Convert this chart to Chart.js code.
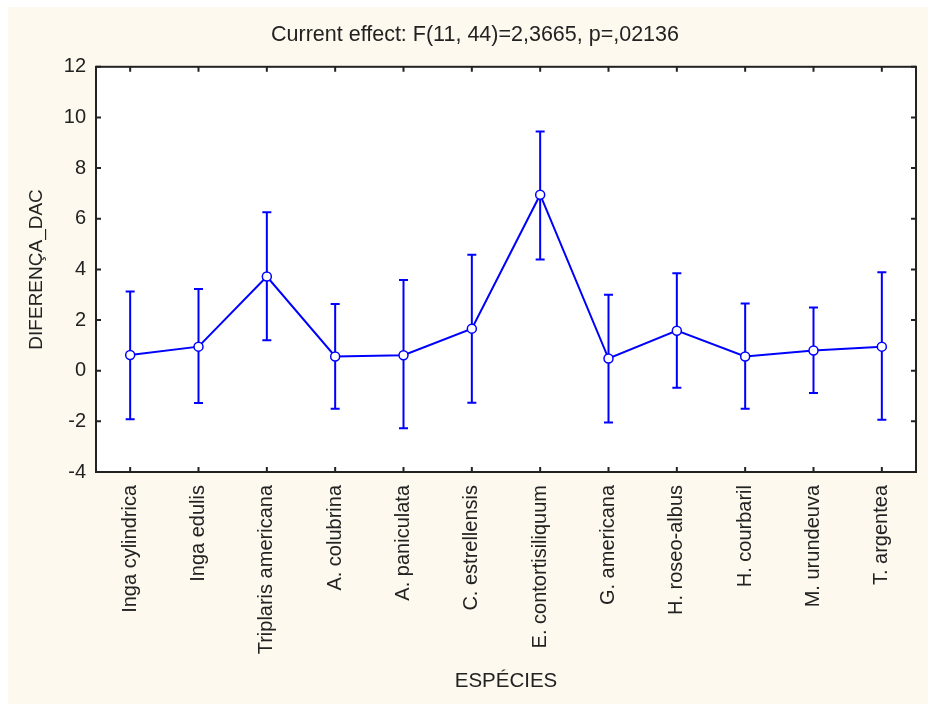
<!DOCTYPE html>
<html>
<head>
<meta charset="utf-8">
<script src="https://cdn.jsdelivr.net/npm/chart.js@4.4.0/dist/chart.umd.min.js"></script>
<style>
  html, body { margin: 0; padding: 0; background: #ffffff; }
  #wrap { position: absolute; left: 8px; top: 7px; width: 920px; height: 697px; background: #fdf9ee; }
</style>
</head>
<body>
<div id="wrap"><canvas id="grafico" width="920" height="697"></canvas></div>
<script>
const especies = ["Inga cylindrica", "Inga edulis", "Triplaris americana", "A. colubrina",
    "A. paniculata", "C. estrellensis", "E. contortisiliquum", "G. americana",
    "H. roseo-albus", "H. courbaril", "M. urundeuva", "T. argentea"];
const medias = [0.62, 0.95, 3.72, 0.56, 0.61, 1.66, 6.95, 0.48, 1.58, 0.56, 0.80, 0.95];
const limSup = [3.13, 3.23, 6.26, 2.63, 3.58, 4.58, 9.45, 3.00, 3.85, 2.65, 2.50, 3.89];
const limInf = [-1.92, -1.28, 1.20, -1.50, -2.27, -1.27, 4.39, -2.05, -0.67, -1.50, -0.88, -1.94];
const yTicks = [-4, -2, 0, 2, 4, 6, 8, 10, 12];

const azul = "#0000ff";
const tinta = "#222222";
const fonte = "'Liberation Sans', Arial, sans-serif";

// barras de erro + moldura com ticks para dentro
const moldura = {
    id: "moldura",
    beforeDraw(chart) {
        const a = chart.chartArea;
        const ctx = chart.ctx;
        ctx.save();
        ctx.fillStyle = "#ffffff";
        ctx.fillRect(a.left, a.top, a.right - a.left, a.bottom - a.top);
        ctx.restore();
    },
    beforeDatasetsDraw(chart) {
        const ctx = chart.ctx;
        const x = chart.scales.x;
        const y = chart.scales.y;
        ctx.save();
        ctx.strokeStyle = azul;
        ctx.lineWidth = 2;
        for (let i = 0; i < medias.length; i++) {
            const px = x.getPixelForValue(i);
            const yS = y.getPixelForValue(limSup[i]);
            const yI = y.getPixelForValue(limInf[i]);
            ctx.beginPath();
            ctx.moveTo(px, yS);
            ctx.lineTo(px, yI);
            ctx.moveTo(px - 4.5, yS);
            ctx.lineTo(px + 4.5, yS);
            ctx.moveTo(px - 4.5, yI);
            ctx.lineTo(px + 4.5, yI);
            ctx.stroke();
        }
        ctx.restore();
    },
    afterDraw(chart) {
        const a = chart.chartArea;
        const ctx = chart.ctx;
        const x = chart.scales.x;
        const y = chart.scales.y;
        ctx.save();
        ctx.strokeStyle = tinta;
        ctx.lineWidth = 2;
        ctx.strokeRect(a.left, a.top, a.right - a.left, a.bottom - a.top);
        ctx.beginPath();
        for (let i = 0; i < especies.length; i++) {
            const px = x.getPixelForValue(i);
            ctx.moveTo(px, a.top);
            ctx.lineTo(px, a.top + 5);
            ctx.moveTo(px, a.bottom);
            ctx.lineTo(px, a.bottom - 5);
        }
        yTicks.forEach(v => {
            const py = y.getPixelForValue(v);
            ctx.moveTo(a.left, py);
            ctx.lineTo(a.left + 5, py);
            ctx.moveTo(a.right, py);
            ctx.lineTo(a.right - 5, py);
        });
        ctx.stroke();
        ctx.restore();
    }
};

const ctx = document.getElementById("grafico").getContext("2d");
const chart = new Chart(ctx, {
    type: "line",
    data: {
        labels: especies,
        datasets: [{
            data: medias,
            borderColor: azul,
            borderWidth: 2,
            tension: 0,
            fill: false,
            pointRadius: 4.5,
            pointBackgroundColor: "#ffffff",
            pointBorderColor: azul,
            pointBorderWidth: 1.5
        }]
    },
    options: {
        responsive: false,
        animation: false,
        layout: { padding: { left: 26, right: 12, top: 0, bottom: 0 } },
        plugins: {
            legend: { display: false },
            tooltip: { enabled: false },
            title: {
                display: true,
                text: "Current effect: F(11, 44)=2,3665, p=,02136",
                color: tinta,
                font: { family: fonte, size: 21.5, weight: "normal" },
                padding: { top: 15, bottom: 19 }
            }
        },
        scales: {
            x: {
                type: "category",
                offset: true,
                grid: { display: false, drawTicks: false },
                border: { display: false },
                afterFit(s) { s.height = 232; },
                ticks: {
                    autoSkip: false,
                    minRotation: 90,
                    maxRotation: 90,
                    padding: 13,
                    color: tinta,
                    font: { family: fonte, size: 20 }
                },
                title: {
                    display: true,
                    text: "ESPÉCIES",
                    color: tinta,
                    font: { family: fonte, size: 20.5 },
                    padding: { top: 0, bottom: 10 }
                }
            },
            y: {
                min: -4,
                max: 12,
                grid: { display: false, drawTicks: false },
                border: { display: false },
                afterFit(s) { s.width = 62; },
                afterBuildTicks(s) { s.ticks = yTicks.map(v => ({ value: v })); },
                ticks: {
                    padding: 10,
                    color: tinta,
                    font: { family: fonte, size: 20 }
                },
                title: {
                    display: true,
                    text: "DIFERENÇA_DAC",
                    color: tinta,
                    font: { family: fonte, size: 19 },
                    padding: { top: -9, bottom: 0 }
                }
            }
        }
    },
    plugins: [moldura]
});
</script>
</body>
</html>
